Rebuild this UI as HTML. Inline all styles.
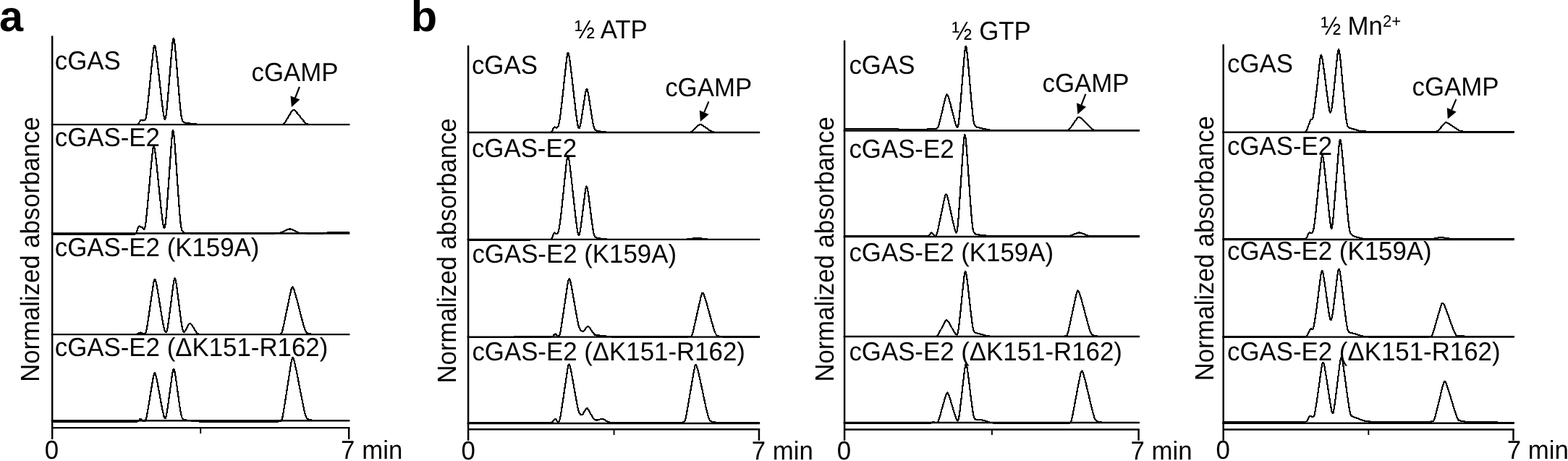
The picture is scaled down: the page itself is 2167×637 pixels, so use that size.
<!DOCTYPE html>
<html><head><meta charset="utf-8"><title>figure</title>
<style>html,body{margin:0;padding:0;background:#fff}svg{display:block}</style></head>
<body>
<svg width="2167" height="637" viewBox="0 0 2167 637">
<rect width="2167" height="637" fill="#fff"/>
<g font-family="'Liberation Sans', sans-serif" font-size="34.85" fill="#000" style="text-rendering:geometricPrecision">
<line x1="72.2" y1="49.4" x2="72.2" y2="607.0" stroke="#000" stroke-width="2.45"/>
<line x1="72.2" y1="591.1" x2="483.4" y2="591.1" stroke="#000" stroke-width="2.45"/>
<line x1="482.17499999999995" y1="591.1" x2="482.17499999999995" y2="607.0" stroke="#000" stroke-width="2.45"/>
<line x1="277.2" y1="591.1" x2="277.2" y2="599.0" stroke="#000" stroke-width="1.9"/>
<line x1="70.7" y1="172.1" x2="483.4" y2="172.1" stroke="#000" stroke-width="2.45"/>
<path d="M72.2,172.1 L188.7,172.06 L189.7,171.93 L190.2,171.76 L190.7,171.47 L191.2,171.02 L191.7,170.39 L192.2,169.59 L193.2,167.72 L193.7,166.89 L194.2,166.27 L194.7,165.95 L195.2,165.89 L196.7,166.39 L197.2,166.46 L198.2,166.36 L199.7,166.16 L200.2,165.98 L200.7,165.49 L201.2,164.45 L201.7,162.68 L202.2,160.11 L202.7,156.83 L203.2,153 L203.7,148.78 L204.2,144.31 L204.7,139.68 L205.2,134.93 L206.2,125.23 L209.2,95.54 L210.2,85.77 L210.7,80.98 L211.2,76.33 L211.7,71.94 L212.2,68.06 L212.7,65.01 L213.2,63.15 L213.7,62.75 L214.2,63.65 L214.7,65.62 L215.2,68.39 L215.7,71.7 L216.2,75.36 L216.7,79.26 L217.2,83.32 L217.7,87.51 L218.2,91.81 L219.2,100.65 L221.7,123.13 L222.7,131.89 L223.2,136.17 L223.7,140.36 L224.2,144.44 L224.7,148.4 L225.2,152.2 L225.7,155.75 L226.2,158.94 L226.7,161.6 L227.2,163.56 L227.7,164.65 L228.2,164.71 L228.7,163.62 L229.2,161.35 L229.7,157.98 L230.2,153.69 L230.7,148.75 L231.2,143.39 L231.7,137.79 L232.2,132.03 L233.2,120.28 L234.7,102.29 L236.2,84.23 L236.7,78.28 L237.2,72.44 L237.7,66.82 L238.2,61.64 L238.7,57.27 L239.2,54.16 L239.7,52.76 L240.2,53.18 L240.7,55.22 L241.2,58.57 L241.7,62.88 L242.2,67.84 L242.7,73.21 L243.2,78.86 L243.7,84.7 L244.2,90.68 L246.2,115.06 L246.7,121.08 L247.2,127.01 L247.7,132.8 L248.2,138.45 L248.7,143.88 L249.2,149 L249.7,153.68 L250.2,157.75 L250.7,161.07 L251.2,163.61 L251.7,165.41 L252.2,166.64 L252.7,167.47 L253.2,168.06 L253.7,168.5 L254.7,169.11 L256.2,169.66 L258.2,170.06 L270.2,171.47 L276.2,171.89 L284.7,172.08 L386.7,172.06 L390.2,171.93 L391.2,171.74 L391.7,171.53 L392.2,171.2 L392.7,170.74 L393.2,170.15 L394.2,168.71 L396.7,164.6 L402.2,155.33 L403.2,153.74 L403.7,153.02 L404.2,152.39 L404.7,151.92 L405.2,151.66 L405.7,151.62 L406.2,151.77 L406.7,152.07 L407.7,152.91 L409.2,154.47 L411.7,157.4 L417.7,164.92 L420.2,167.84 L421.7,169.44 L422.7,170.35 L423.7,170.99 L424.7,171.35 L426.7,171.67 L430.7,171.97 L439.2,172.09 L483.2,172.1" fill="none" stroke="#000" stroke-width="2.2" stroke-linejoin="round" shape-rendering="crispEdges"/>
<text transform="translate(75.80 95.95) scale(1.0 1.035)">cGAS</text>
<line x1="70.7" y1="322.45" x2="483.4" y2="322.45" stroke="#000" stroke-width="2.45"/>
<path d="M72.2,323.75 L184.7,323.71 L186.2,323.53 L186.7,323.35 L187.2,323.03 L187.7,322.52 L188.2,321.75 L188.7,320.68 L189.2,319.3 L190.2,316.08 L190.7,314.59 L191.2,313.45 L191.7,312.77 L192.2,312.55 L192.7,312.7 L193.7,313.35 L194.2,313.57 L195.2,313.68 L195.7,313.72 L196.2,313.88 L196.7,314.22 L197.2,314.75 L198.2,316.12 L198.7,316.7 L199.2,316.94 L199.7,316.57 L200.2,315.35 L200.7,313.13 L201.2,309.94 L201.7,305.93 L202.2,301.34 L202.7,296.38 L203.2,291.21 L204.2,280.55 L205.7,264.21 L208.2,236.82 L209.2,226.06 L209.7,220.79 L210.2,215.7 L210.7,210.95 L211.2,206.81 L211.7,203.67 L212.2,201.93 L212.7,201.8 L213.2,203.05 L213.7,205.42 L214.2,208.62 L214.7,212.37 L215.2,216.47 L215.7,220.82 L216.2,225.33 L216.7,229.99 L217.2,234.76 L218.2,244.54 L220.2,264.45 L221.2,274.24 L221.7,279.03 L222.2,283.74 L222.7,288.35 L223.2,292.84 L223.7,297.2 L224.2,301.36 L224.7,305.23 L225.2,308.68 L225.7,311.56 L226.2,313.7 L226.7,314.98 L227.2,315.26 L227.7,314.4 L228.2,312.27 L228.7,308.84 L229.2,304.23 L229.7,298.68 L230.2,292.48 L230.7,285.88 L231.2,279.06 L231.7,272.1 L232.7,257.94 L235.2,222.01 L235.7,214.87 L236.2,207.83 L236.7,200.96 L237.2,194.44 L237.7,188.62 L238.2,183.97 L238.7,181.06 L239.2,180.32 L239.7,181.69 L240.2,184.87 L240.7,189.46 L241.2,195.04 L241.7,201.26 L242.2,207.91 L242.7,214.84 L243.2,221.98 L243.7,229.26 L245.2,251.4 L245.7,258.73 L246.2,265.96 L246.7,273.06 L247.2,280 L247.7,286.73 L248.2,293.16 L248.7,299.16 L249.2,304.55 L249.7,309.13 L250.2,312.78 L250.7,315.49 L251.2,317.38 L251.7,318.67 L252.2,319.56 L252.7,320.2 L253.2,320.69 L254.2,321.38 L255.2,321.82 L256.7,322.18 L259.2,322.39 L276.2,322.45 L379.7,322.41 L383.7,322.22 L386.2,321.88 L388.2,321.39 L390.2,320.66 L392.7,319.42 L396.2,317.53 L397.7,316.91 L399.2,316.54 L400.7,316.46 L402.2,316.7 L403.7,317.22 L405.7,318.2 L409.2,320.1 L411.2,320.98 L413.2,321.61 L415.7,322.09 L418.7,322.34 L426.2,322.45 L447.2,322.4 L449.2,322.23 L452.7,321.48 L454.7,321.3 L473.7,321.25 L483.2,321.25" fill="none" stroke="#000" stroke-width="2.2" stroke-linejoin="round" shape-rendering="crispEdges"/>
<text transform="translate(75.80 201.95) scale(1.0 1.035)">cGAS-E2</text>
<line x1="70.7" y1="462.1" x2="483.4" y2="462.1" stroke="#000" stroke-width="2.45"/>
<path d="M72.2,462.1 L186.7,462.06 L188.2,461.93 L189.2,461.7 L190.2,461.31 L192.7,459.9 L193.2,459.7 L193.7,459.59 L194.2,459.57 L194.7,459.65 L195.7,460.04 L197.7,461.05 L198.7,461.34 L199.2,461.39 L199.7,461.35 L200.2,461.18 L200.7,460.78 L201.2,460.03 L201.7,458.82 L202.2,457.06 L202.7,454.76 L203.2,452.03 L203.7,448.98 L204.2,445.75 L205.2,439.04 L207.2,425.27 L209.7,407.94 L210.7,401.14 L211.2,397.81 L211.7,394.59 L212.2,391.58 L212.7,388.96 L213.2,386.98 L213.7,385.88 L214.2,385.79 L214.7,386.58 L215.2,388.09 L215.7,390.11 L216.2,392.48 L216.7,395.08 L217.2,397.82 L217.7,400.68 L218.7,406.64 L220.2,415.97 L222.2,428.54 L223.2,434.67 L224.2,440.58 L224.7,443.44 L225.2,446.21 L225.7,448.86 L226.2,451.34 L226.7,453.57 L227.2,455.45 L227.7,456.94 L228.2,458 L228.7,458.66 L229.2,458.94 L229.7,458.79 L230.2,458.14 L230.7,456.87 L231.2,454.94 L231.7,452.38 L232.2,449.32 L232.7,445.91 L233.2,442.29 L234.2,434.72 L235.7,423.05 L238.2,403.42 L238.7,399.57 L239.2,395.81 L239.7,392.26 L240.2,389.07 L240.7,386.53 L241.2,384.95 L241.7,384.54 L242.2,385.29 L242.7,387.02 L243.2,389.53 L243.7,392.57 L244.2,395.97 L244.7,399.59 L245.2,403.38 L246.2,411.24 L248.2,427.32 L249.2,435.14 L249.7,438.92 L250.2,442.59 L250.7,446.09 L251.2,449.35 L251.7,452.27 L252.2,454.72 L252.7,456.63 L253.2,457.94 L253.7,458.69 L254.2,458.94 L254.7,458.8 L255.2,458.37 L255.7,457.73 L256.2,456.94 L257.2,455.14 L259.2,451.13 L260.2,449.13 L260.7,448.22 L261.2,447.44 L261.7,446.88 L262.2,446.6 L262.7,446.64 L263.2,446.9 L263.7,447.36 L264.2,447.94 L265.2,449.31 L267.2,452.43 L270.2,457.17 L271.7,459.31 L272.7,460.46 L273.2,460.9 L273.7,461.24 L274.7,461.64 L276.2,461.89 L279.7,462.07 L380.7,462.06 L385.2,461.86 L387.2,461.59 L387.7,461.43 L388.2,461.14 L388.7,460.65 L389.2,459.85 L389.7,458.69 L390.2,457.15 L390.7,455.3 L391.2,453.21 L392.2,448.68 L394.2,439.18 L399.2,414.98 L400.7,407.87 L401.7,403.31 L402.2,401.19 L402.7,399.29 L403.2,397.78 L403.7,396.81 L404.2,396.51 L404.7,396.82 L405.2,397.6 L405.7,398.72 L406.2,400.06 L406.7,401.55 L407.7,404.78 L408.7,408.24 L410.2,413.74 L412.2,421.46 L415.7,435.19 L417.2,440.87 L418.7,446.33 L420.2,451.51 L420.7,453.14 L421.2,454.67 L421.7,456.06 L422.2,457.26 L422.7,458.23 L423.2,458.97 L423.7,459.51 L424.2,459.9 L425.2,460.43 L427.2,461.11 L429.7,461.62 L433.2,461.94 L439.7,462.09 L483.2,462.1" fill="none" stroke="#000" stroke-width="2.2" stroke-linejoin="round" shape-rendering="crispEdges"/>
<text transform="translate(75.80 353.50) scale(1.0 1.035)">cGAS-E2 (K159A)</text>
<line x1="70.7" y1="581.2" x2="483.4" y2="581.2" stroke="#000" stroke-width="2.45"/>
<path d="M72.2,582.7 L188.7,582.67 L189.7,582.54 L190.2,582.4 L190.7,582.15 L191.2,581.79 L191.7,581.28 L193.2,579.36 L193.7,578.89 L194.2,578.67 L194.7,578.75 L195.2,579.11 L195.7,579.67 L196.7,580.93 L197.2,581.45 L197.7,581.83 L198.2,582.06 L198.7,582.18 L199.2,582.19 L199.7,582.09 L200.2,581.84 L200.7,581.36 L201.2,580.54 L201.7,579.27 L202.2,577.51 L202.7,575.31 L203.2,572.77 L203.7,570 L204.7,564.15 L206.7,552.04 L209.7,533.71 L210.7,527.74 L211.2,524.83 L211.7,522.05 L212.2,519.5 L212.7,517.39 L213.2,515.92 L213.7,515.3 L214.2,515.56 L214.7,516.53 L215.2,518.07 L215.7,519.99 L216.2,522.18 L216.7,524.52 L217.2,526.99 L218.2,532.17 L219.7,540.33 L222.2,554.16 L223.2,559.51 L224.2,564.66 L224.7,567.13 L225.2,569.51 L225.7,571.77 L226.2,573.83 L226.7,575.62 L227.2,577.01 L227.7,577.91 L228.2,578.22 L228.7,577.84 L229.2,576.75 L229.7,574.95 L230.2,572.55 L230.7,569.68 L231.2,566.5 L231.7,563.13 L232.7,556.11 L234.2,545.24 L236.7,526.89 L237.2,523.29 L237.7,519.79 L238.2,516.49 L238.7,513.58 L239.2,511.32 L239.7,510.01 L240.2,509.81 L240.7,510.66 L241.2,512.39 L241.7,514.79 L242.2,517.65 L242.7,520.8 L243.2,524.16 L243.7,527.65 L244.7,534.89 L246.7,549.62 L247.7,556.77 L248.2,560.22 L248.7,563.57 L249.2,566.75 L249.7,569.7 L250.2,572.32 L250.7,574.52 L251.2,576.24 L251.7,577.49 L252.2,578.36 L252.7,578.94 L253.2,579.34 L254.2,579.85 L255.7,580.31 L258.7,580.76 L271.2,582.16 L277.2,582.53 L286.7,582.69 L380.2,582.66 L384.7,582.46 L386.7,582.21 L387.7,581.94 L388.2,581.67 L388.7,581.19 L389.2,580.38 L389.7,579.13 L390.2,577.37 L390.7,575.13 L391.2,572.51 L391.7,569.64 L392.7,563.5 L394.2,553.98 L396.7,537.79 L399.7,518.26 L401.2,508.66 L401.7,505.54 L402.2,502.51 L402.7,499.69 L403.2,497.25 L403.7,495.4 L404.2,494.36 L404.7,494.22 L405.2,494.81 L405.7,495.97 L406.2,497.53 L406.7,499.35 L407.2,501.34 L407.7,503.45 L408.7,507.91 L409.7,512.65 L410.7,517.61 L412.2,525.32 L415.7,543.67 L417.2,551.32 L418.7,558.69 L419.7,563.4 L420.7,567.92 L421.2,570.05 L421.7,572.04 L422.2,573.8 L422.7,575.29 L423.2,576.46 L423.7,577.33 L424.2,577.96 L424.7,578.43 L425.7,579.08 L427.2,579.77 L429.2,580.38 L431.7,580.82 L435.2,581.08 L443.7,581.2 L483.2,581.2" fill="none" stroke="#000" stroke-width="2.2" stroke-linejoin="round" shape-rendering="crispEdges"/>
<text transform="translate(75.80 491.95) scale(1.0 1.035)">cGAS-E2 (ΔK151-R162)</text>
<text transform="translate(347.50 112.20) scale(1.0 1.035)">cGAMP</text>
<line x1="413.9" y1="120.0" x2="408.0" y2="135.1" stroke="#000" stroke-width="2.2"/>
<polygon points="402.9,148.1 401.5,132.5 414.5,137.6"/>
<text transform="translate(54.2,527.7) rotate(-90) scale(1,1.05)" font-size="34.68">Normalized absorbance</text>
<text transform="translate(71.40 634.20) scale(1.0 1.035)" text-anchor="middle">0</text>
<text transform="translate(471.10 634.20) scale(1.0 1.035)">7 min</text>
<line x1="647.1" y1="62.8" x2="647.1" y2="608.7" stroke="#000" stroke-width="2.45"/>
<line x1="647.1" y1="593.3" x2="1050.2" y2="593.3" stroke="#000" stroke-width="2.45"/>
<line x1="1048.9750000000001" y1="593.3" x2="1048.9750000000001" y2="608.7" stroke="#000" stroke-width="2.45"/>
<line x1="848.6" y1="593.3" x2="848.6" y2="601.0" stroke="#000" stroke-width="1.9"/>
<line x1="645.6" y1="182.9" x2="1050.2" y2="182.9" stroke="#000" stroke-width="2.45"/>
<path d="M647.1,182.9 L759.6,182.88 L760.6,182.81 L761.1,182.7 L761.6,182.51 L762.1,182.18 L762.6,181.66 L763.1,180.92 L763.6,179.95 L764.6,177.67 L765.1,176.64 L765.6,175.89 L766.1,175.51 L766.6,175.51 L767.1,175.77 L768.1,176.45 L768.6,176.6 L769.1,176.55 L769.6,176.32 L770.1,175.96 L770.6,175.48 L771.1,174.84 L771.6,173.9 L772.1,172.5 L772.6,170.54 L773.1,167.99 L773.6,164.93 L774.1,161.49 L774.6,157.76 L775.1,153.83 L775.6,149.73 L776.1,145.49 L776.6,141.12 L777.6,132.11 L779.1,118.22 L781.1,99.66 L782.1,90.59 L782.6,86.2 L783.1,82.03 L783.6,78.29 L784.1,75.27 L784.6,73.33 L785.1,72.73 L785.6,73.43 L786.1,75.2 L786.6,77.79 L787.1,80.94 L787.6,84.47 L788.1,88.24 L788.6,92.19 L789.1,96.27 L789.6,100.46 L790.6,109.1 L793.1,131.24 L794.1,139.95 L795.1,148.41 L795.6,152.53 L796.1,156.54 L796.6,160.43 L797.1,164.16 L797.6,167.64 L798.1,170.76 L798.6,173.39 L799.1,175.4 L799.6,176.71 L800.1,177.28 L800.6,177.1 L801.1,176.19 L801.6,174.6 L802.1,172.45 L802.6,169.88 L803.1,167.03 L803.6,164.01 L804.6,157.68 L806.1,147.84 L808.1,134.58 L808.6,131.39 L809.1,128.42 L809.6,125.84 L810.1,123.9 L810.6,122.86 L811.1,122.84 L811.6,123.75 L812.1,125.43 L812.6,127.68 L813.1,130.32 L813.6,133.21 L814.1,136.25 L815.1,142.64 L817.1,155.7 L818.1,162.01 L818.6,165.04 L819.1,167.94 L819.6,170.64 L820.1,173.07 L820.6,175.13 L821.1,176.77 L821.6,177.98 L822.1,178.82 L822.6,179.4 L823.1,179.8 L824.1,180.32 L825.6,180.81 L829.1,181.52 L834.6,182.32 L839.1,182.7 L845.6,182.87 L951.1,182.86 L953.6,182.75 L954.6,182.52 L955.6,182.02 L956.6,181.27 L960.1,178.04 L965.1,173.36 L966.1,172.54 L966.6,172.22 L967.1,172 L967.6,171.91 L968.1,171.94 L969.1,172.26 L970.6,173.06 L973.6,175.04 L980.1,179.64 L983.1,181.53 L984.6,182.21 L986.1,182.53 L990.1,182.79 L1000.1,182.9 L1050.1,182.9" fill="none" stroke="#000" stroke-width="2.2" stroke-linejoin="round" shape-rendering="crispEdges"/>
<text transform="translate(651.90 101.60) scale(1.0 1.035)">cGAS</text>
<line x1="645.6" y1="330.85" x2="1050.2" y2="330.85" stroke="#000" stroke-width="2.45"/>
<path d="M647.1,331.85 L729.1,331.81 L731.6,331.61 L735.1,331 L738.1,330.86 L760.1,330.81 L761.1,330.64 L761.6,330.42 L762.1,330.05 L762.6,329.45 L763.1,328.58 L763.6,327.42 L764.1,326.05 L764.6,324.59 L765.1,323.25 L765.6,322.23 L766.1,321.67 L766.6,321.58 L767.1,321.87 L768.1,322.82 L768.6,323.12 L769.1,323.17 L769.6,322.99 L770.1,322.62 L770.6,322.05 L771.1,321.24 L771.6,320.04 L772.1,318.34 L772.6,316.05 L773.1,313.2 L773.6,309.9 L774.1,306.26 L774.6,302.38 L775.1,298.29 L775.6,294.03 L776.1,289.61 L776.6,285.06 L777.1,280.39 L778.1,270.83 L780.6,246.5 L781.6,236.93 L782.1,232.24 L782.6,227.72 L783.1,223.49 L783.6,219.82 L784.1,217.07 L784.6,215.57 L785.1,215.52 L785.6,216.73 L786.1,218.96 L786.6,221.94 L787.1,225.43 L787.6,229.24 L788.1,233.28 L788.6,237.47 L789.1,241.8 L789.6,246.23 L790.6,255.34 L793.1,278.55 L794.1,287.63 L794.6,292.07 L795.1,296.43 L795.6,300.7 L796.1,304.86 L796.6,308.87 L797.1,312.69 L797.6,316.19 L798.1,319.26 L798.6,321.75 L799.1,323.53 L799.6,324.53 L800.1,324.69 L800.6,323.98 L801.1,322.43 L801.6,320.11 L802.1,317.19 L802.6,313.84 L803.1,310.21 L803.6,306.42 L804.6,298.57 L806.1,286.45 L807.6,274.25 L808.1,270.27 L808.6,266.46 L809.1,262.99 L809.6,260.11 L810.1,258.15 L810.6,257.38 L811.1,257.86 L811.6,259.4 L812.1,261.78 L812.6,264.77 L813.1,268.16 L813.6,271.8 L814.1,275.6 L815.1,283.51 L816.6,295.57 L817.6,303.42 L818.1,307.21 L818.6,310.87 L819.1,314.34 L819.6,317.53 L820.1,320.34 L820.6,322.66 L821.1,324.45 L821.6,325.74 L822.1,326.62 L822.6,327.22 L823.1,327.64 L824.1,328.2 L825.6,328.73 L828.6,329.38 L834.1,330.21 L838.6,330.62 L845.1,330.82 L943.6,330.81 L949.1,330.61 L953.1,330.19 L960.1,329.07 L962.6,328.87 L965.1,328.9 L968.1,329.24 L974.6,330.28 L978.6,330.65 L984.6,330.83 L1050.1,330.85" fill="none" stroke="#000" stroke-width="2.2" stroke-linejoin="round" shape-rendering="crispEdges"/>
<text transform="translate(651.90 217.30) scale(1.0 1.035)">cGAS-E2</text>
<line x1="645.6" y1="465.6" x2="1050.2" y2="465.6" stroke="#000" stroke-width="2.45"/>
<path d="M647.1,466.3 L699.6,466.26 L702.1,466.08 L705.1,465.7 L709.6,465.6 L761.1,465.57 L762.1,465.47 L763.1,465.19 L763.6,464.93 L764.1,464.56 L764.6,464.07 L766.1,462.31 L766.6,461.84 L767.1,461.56 L767.6,461.51 L768.1,461.7 L768.6,462.09 L770.1,463.68 L770.6,464.1 L771.1,464.38 L771.6,464.51 L772.1,464.42 L772.6,464.04 L773.1,463.27 L773.6,462 L774.1,460.18 L774.6,457.85 L775.1,455.12 L775.6,452.11 L776.1,448.95 L777.1,442.39 L779.1,428.95 L782.6,405.17 L783.6,398.5 L784.1,395.26 L784.6,392.17 L785.1,389.37 L785.6,387.09 L786.1,385.58 L786.6,385.02 L787.1,385.39 L787.6,386.51 L788.1,388.21 L788.6,390.3 L789.1,392.65 L789.6,395.15 L790.1,397.76 L791.1,403.22 L792.6,411.76 L795.1,426.16 L796.6,434.53 L797.6,439.93 L798.1,442.54 L798.6,445.07 L799.1,447.47 L799.6,449.65 L800.1,451.53 L800.6,453.06 L801.1,454.24 L801.6,455.12 L802.1,455.77 L803.1,456.75 L804.1,457.49 L804.6,457.75 L805.1,457.89 L805.6,457.88 L806.1,457.7 L806.6,457.36 L807.1,456.9 L808.1,455.74 L810.6,452.4 L811.1,451.78 L811.6,451.29 L812.1,450.97 L812.6,450.89 L813.1,451.09 L813.6,451.48 L814.1,452.03 L815.1,453.38 L818.6,458.5 L820.1,460.49 L821.1,461.66 L822.1,462.59 L822.6,462.93 L823.1,463.18 L824.1,463.43 L827.1,463.54 L830.6,463.7 L835.1,464.25 L841.1,465.08 L845.6,465.42 L853.1,465.59 L947.6,465.56 L952.1,465.37 L954.1,465.1 L954.6,464.93 L955.1,464.63 L955.6,464.13 L956.1,463.32 L956.6,462.17 L957.1,460.68 L957.6,458.9 L958.1,456.93 L959.1,452.68 L961.1,443.84 L966.1,421.33 L967.6,414.74 L968.6,410.53 L969.1,408.58 L969.6,406.88 L970.1,405.56 L970.6,404.78 L971.1,404.63 L971.6,405.01 L972.1,405.81 L972.6,406.9 L973.1,408.18 L974.1,411.07 L975.1,414.21 L976.6,419.24 L978.1,424.54 L982.6,440.93 L984.1,446.2 L985.6,451.27 L987.1,456.06 L987.6,457.56 L988.1,458.96 L988.6,460.23 L989.1,461.3 L989.6,462.16 L990.1,462.8 L990.6,463.27 L991.1,463.61 L992.1,464.09 L994.1,464.71 L996.6,465.16 L1000.1,465.46 L1007.6,465.59 L1050.1,465.6" fill="none" stroke="#000" stroke-width="2.2" stroke-linejoin="round" shape-rendering="crispEdges"/>
<text transform="translate(652.40 362.97) scale(1.0 1.035)">cGAS-E2 (K159A)</text>
<line x1="645.6" y1="585.0" x2="1050.2" y2="585.0" stroke="#000" stroke-width="2.45"/>
<path d="M647.1,584 L760.6,583.97 L761.6,583.88 L762.6,583.59 L763.1,583.31 L763.6,582.9 L764.1,582.36 L765.1,580.93 L765.6,580.18 L766.1,579.53 L766.6,579.08 L767.1,578.91 L767.6,579.04 L768.1,579.44 L768.6,580.04 L769.6,581.43 L770.1,582.03 L770.6,582.49 L771.1,582.78 L771.6,582.86 L772.1,582.68 L772.6,582.17 L773.1,581.21 L773.6,579.72 L774.1,577.69 L774.6,575.18 L775.1,572.31 L775.6,569.21 L776.6,562.7 L778.1,552.65 L782.6,522.05 L783.6,515.42 L784.1,512.22 L784.6,509.23 L785.1,506.61 L785.6,504.61 L786.1,503.47 L786.6,503.32 L787.1,504.02 L787.6,505.42 L788.1,507.31 L788.6,509.54 L789.1,511.98 L789.6,514.54 L790.6,519.93 L792.1,528.39 L794.1,539.82 L795.6,548.15 L796.6,553.5 L797.6,558.66 L798.1,561.14 L798.6,563.51 L799.1,565.71 L799.6,567.66 L800.1,569.29 L800.6,570.55 L801.1,571.47 L801.6,572.13 L802.1,572.59 L802.6,572.92 L803.1,573.16 L803.6,573.27 L804.1,573.22 L804.6,572.99 L805.1,572.57 L805.6,571.99 L806.6,570.51 L809.1,566.33 L809.6,565.55 L810.1,564.86 L810.6,564.36 L811.1,564.11 L811.6,564.17 L812.1,564.54 L812.6,565.13 L813.1,565.87 L814.1,567.62 L817.1,573.19 L818.6,575.79 L819.6,577.37 L820.6,578.73 L821.1,579.27 L821.6,579.7 L822.1,580.02 L823.1,580.37 L824.6,580.5 L826.1,580.37 L827.6,580 L830.6,578.97 L831.6,578.77 L832.6,578.77 L833.6,579 L834.6,579.44 L836.1,580.4 L838.6,582.15 L840.1,582.94 L841.6,583.45 L843.6,583.8 L847.1,583.97 L937.6,583.96 L942.1,583.76 L944.1,583.5 L945.1,583.18 L945.6,582.83 L946.1,582.23 L946.6,581.26 L947.1,579.84 L947.6,577.97 L948.1,575.7 L948.6,573.16 L949.1,570.44 L950.1,564.77 L952.1,553.12 L956.6,526.53 L958.1,517.87 L959.1,512.31 L959.6,509.72 L960.1,507.4 L960.6,505.56 L961.1,504.38 L961.6,504.01 L962.1,504.39 L962.6,505.34 L963.1,506.7 L963.6,508.35 L964.1,510.16 L964.6,512.09 L965.6,516.18 L966.6,520.5 L968.1,527.34 L970.1,536.84 L972.6,548.82 L974.1,555.83 L975.6,562.58 L977.1,569.03 L978.1,573.07 L978.6,574.94 L979.1,576.64 L979.6,578.1 L980.1,579.28 L980.6,580.18 L981.1,580.84 L981.6,581.31 L982.6,581.96 L984.1,582.62 L986.1,583.21 L988.6,583.63 L992.1,583.89 L1000.6,584 L1050.1,584" fill="none" stroke="#000" stroke-width="2.2" stroke-linejoin="round" shape-rendering="crispEdges"/>
<text transform="translate(652.40 497.90) scale(1.0 1.035)">cGAS-E2 (ΔK151-R162)</text>
<text transform="translate(919.20 132.50) scale(1.0 1.035)">cGAMP</text>
<line x1="979.4" y1="140.4" x2="973.3" y2="155.2" stroke="#000" stroke-width="2.2"/>
<polygon points="967.9,168.1 966.8,152.5 979.7,157.9"/>
<text transform="translate(630.0,529.6) rotate(-90) scale(1,1.05)" font-size="34.68">Normalized absorbance</text>
<text transform="translate(794.30 52.90) scale(0.955 1.035)">½</text>
<text transform="translate(829.70 52.90) scale(1.0 1.035)">ATP</text>
<text transform="translate(647.10 635.00) scale(1.0 1.035)" text-anchor="middle">0</text>
<text transform="translate(1038.80 635.00) scale(1.0 1.035)">7 min</text>
<line x1="1167.1" y1="55.7" x2="1167.1" y2="608.7" stroke="#000" stroke-width="2.45"/>
<line x1="1167.1" y1="593.4" x2="1574.8" y2="593.4" stroke="#000" stroke-width="2.45"/>
<line x1="1573.575" y1="593.4" x2="1573.575" y2="608.7" stroke="#000" stroke-width="2.45"/>
<line x1="1370.9" y1="593.4" x2="1370.9" y2="601.0" stroke="#000" stroke-width="1.9"/>
<line x1="1165.6" y1="180.4" x2="1574.8" y2="180.4" stroke="#000" stroke-width="2.45"/>
<path d="M1167.1,178 L1236.6,178.04 L1239.1,178.22 L1242.1,178.6 L1246.6,178.7 L1280.1,178.67 L1282.6,178.48 L1286.1,177.92 L1290.6,177.73 L1294.1,177.7 L1294.6,177.6 L1295.1,177.34 L1295.6,176.84 L1296.1,176.04 L1296.6,174.91 L1297.1,173.49 L1297.6,171.85 L1298.1,170.05 L1299.1,166.19 L1300.6,160.08 L1305.1,141.27 L1306.1,137.23 L1306.6,135.31 L1307.1,133.54 L1307.6,132.03 L1308.1,130.95 L1308.6,130.44 L1309.1,130.55 L1309.6,131.18 L1310.1,132.23 L1310.6,133.59 L1311.1,135.14 L1311.6,136.83 L1312.6,140.45 L1313.6,144.29 L1316.1,154.34 L1317.6,160.33 L1318.6,164.18 L1319.6,167.85 L1320.1,169.6 L1320.6,171.26 L1321.1,172.81 L1321.6,174.17 L1322.1,175.26 L1322.6,175.97 L1323.1,176.14 L1323.6,175.58 L1324.1,174.11 L1324.6,171.59 L1325.1,168.01 L1325.6,163.52 L1326.1,158.33 L1326.6,152.69 L1327.1,146.79 L1327.6,140.75 L1328.6,128.43 L1331.1,97.17 L1331.6,90.98 L1332.1,84.9 L1332.6,79.04 L1333.1,73.63 L1333.6,69.03 L1334.1,65.71 L1334.6,64.09 L1335.1,64.34 L1335.6,66.21 L1336.1,69.37 L1336.6,73.49 L1337.1,78.25 L1337.6,83.4 L1338.1,88.83 L1338.6,94.45 L1339.1,100.19 L1341.1,123.63 L1341.6,129.41 L1342.1,135.1 L1342.6,140.68 L1343.1,146.1 L1343.6,151.32 L1344.1,156.25 L1344.6,160.74 L1345.1,164.65 L1345.6,167.84 L1346.1,170.26 L1346.6,171.97 L1347.1,173.13 L1347.6,173.92 L1348.1,174.46 L1348.6,174.87 L1349.6,175.44 L1351.1,175.99 L1359.6,177.88 L1365.1,179.12 L1369.1,179.75 L1373.6,180.15 L1380.1,180.36 L1469.6,180.38 L1474.6,180.25 L1475.6,180.1 L1476.1,179.94 L1476.6,179.69 L1477.1,179.32 L1477.6,178.85 L1478.6,177.66 L1481.6,173.51 L1487.6,164.98 L1489.1,163.02 L1489.6,162.48 L1490.1,162.05 L1490.6,161.78 L1491.1,161.71 L1491.6,161.8 L1492.1,162.01 L1493.1,162.67 L1495.1,164.35 L1497.6,166.72 L1505.1,174.38 L1508.1,177.2 L1509.6,178.45 L1510.6,179.11 L1511.6,179.54 L1513.1,179.85 L1517.1,180.19 L1524.1,180.37 L1574.6,180.4" fill="none" stroke="#000" stroke-width="2.2" stroke-linejoin="round" shape-rendering="crispEdges"/>
<text transform="translate(1173.40 101.60) scale(1.0 1.035)">cGAS</text>
<line x1="1165.6" y1="327.0" x2="1574.8" y2="327.0" stroke="#000" stroke-width="2.45"/>
<path d="M1167.1,326.5 L1281.1,326.46 L1282.1,326.35 L1282.6,326.22 L1283.1,326 L1283.6,325.67 L1284.1,325.21 L1284.6,324.61 L1286.1,322.43 L1286.6,321.85 L1287.1,321.51 L1287.6,321.47 L1288.1,321.73 L1288.6,322.24 L1290.1,324.32 L1290.6,324.9 L1291.1,325.34 L1291.6,325.64 L1292.1,325.78 L1292.6,325.79 L1293.1,325.62 L1293.6,325.22 L1294.1,324.51 L1294.6,323.43 L1295.1,321.96 L1295.6,320.15 L1296.1,318.09 L1296.6,315.86 L1297.6,311.18 L1300.1,299.1 L1303.1,284.47 L1304.6,277.35 L1305.1,275.07 L1305.6,272.93 L1306.1,271.04 L1306.6,269.57 L1307.1,268.69 L1307.6,268.54 L1308.1,269.04 L1308.6,270.08 L1309.1,271.53 L1309.6,273.26 L1310.1,275.16 L1310.6,277.19 L1311.6,281.47 L1312.6,285.99 L1316.1,302.32 L1317.1,306.81 L1318.1,311.12 L1318.6,313.18 L1319.1,315.15 L1319.6,317 L1320.1,318.67 L1320.6,320.06 L1321.1,321.04 L1321.6,321.41 L1322.1,320.96 L1322.6,319.45 L1323.1,316.67 L1323.6,312.59 L1324.1,307.34 L1324.6,301.2 L1325.1,294.46 L1325.6,287.36 L1326.1,280.07 L1327.1,265.19 L1329.6,227.41 L1330.1,219.93 L1330.6,212.56 L1331.1,205.43 L1331.6,198.77 L1332.1,193 L1332.6,188.67 L1333.1,186.32 L1333.6,186.27 L1334.1,188.25 L1334.6,191.9 L1335.1,196.8 L1335.6,202.53 L1336.1,208.8 L1336.6,215.43 L1337.1,222.3 L1337.6,229.35 L1338.6,243.73 L1339.6,258.16 L1340.1,265.3 L1340.6,272.32 L1341.1,279.21 L1341.6,285.92 L1342.1,292.39 L1342.6,298.53 L1343.1,304.17 L1343.6,309.14 L1344.1,313.25 L1344.6,316.42 L1345.1,318.71 L1345.6,320.27 L1346.1,321.32 L1346.6,322.05 L1347.1,322.58 L1347.6,322.98 L1348.6,323.57 L1350.1,324.08 L1352.1,324.42 L1366.6,326 L1372.6,326.34 L1382.6,326.49 L1471.1,326.46 L1475.1,326.29 L1477.6,325.99 L1480.1,325.43 L1482.6,324.54 L1487.6,322.32 L1489.1,321.83 L1490.6,321.55 L1492.1,321.52 L1493.6,321.75 L1495.1,322.21 L1498.1,323.51 L1501.1,324.82 L1503.6,325.62 L1506.1,326.1 L1509.1,326.37 L1515.6,326.49 L1574.6,326.5" fill="none" stroke="#000" stroke-width="2.2" stroke-linejoin="round" shape-rendering="crispEdges"/>
<text transform="translate(1173.40 217.50) scale(1.0 1.035)">cGAS-E2</text>
<line x1="1165.6" y1="464.9" x2="1574.8" y2="464.9" stroke="#000" stroke-width="2.45"/>
<path d="M1167.1,464.9 L1289.6,464.86 L1293.1,464.73 L1294.1,464.53 L1294.6,464.32 L1295.1,463.98 L1295.6,463.5 L1296.1,462.87 L1296.6,462.13 L1297.6,460.42 L1301.1,453.89 L1305.1,446.38 L1306.1,444.61 L1306.6,443.81 L1307.1,443.13 L1307.6,442.65 L1308.1,442.42 L1308.6,442.47 L1309.1,442.75 L1309.6,443.22 L1310.1,443.83 L1311.1,445.29 L1312.6,447.78 L1317.6,456.73 L1319.1,459.21 L1320.1,460.71 L1320.6,461.38 L1321.1,461.95 L1321.6,462.37 L1322.1,462.55 L1322.6,462.37 L1323.1,461.66 L1323.6,460.26 L1324.1,458.07 L1324.6,455.08 L1325.1,451.42 L1325.6,447.27 L1326.1,442.81 L1326.6,438.18 L1327.6,428.68 L1330.6,399.62 L1331.1,394.83 L1331.6,390.14 L1332.1,385.65 L1332.6,381.55 L1333.1,378.14 L1333.6,375.8 L1334.1,374.84 L1334.6,375.32 L1335.1,376.99 L1335.6,379.63 L1336.1,382.94 L1336.6,386.7 L1337.1,390.74 L1337.6,394.97 L1338.1,399.33 L1339.1,408.28 L1340.6,421.8 L1341.6,430.57 L1342.1,434.82 L1342.6,438.94 L1343.1,442.89 L1343.6,446.59 L1344.1,449.94 L1344.6,452.8 L1345.1,455.1 L1345.6,456.79 L1346.1,457.96 L1346.6,458.74 L1347.1,459.24 L1347.6,459.59 L1348.6,460.05 L1350.6,460.59 L1354.6,461.48 L1361.6,463.5 L1364.6,464.14 L1368.1,464.59 L1372.6,464.83 L1388.1,464.9 L1466.1,464.86 L1470.6,464.68 L1472.6,464.43 L1473.1,464.29 L1473.6,464.04 L1474.1,463.61 L1474.6,462.9 L1475.1,461.85 L1475.6,460.43 L1476.1,458.69 L1476.6,456.71 L1477.1,454.58 L1478.6,447.8 L1481.1,436.17 L1484.6,419.75 L1486.1,412.86 L1487.1,408.42 L1487.6,406.34 L1488.1,404.45 L1488.6,402.9 L1489.1,401.84 L1489.6,401.42 L1490.1,401.62 L1490.6,402.28 L1491.1,403.31 L1491.6,404.58 L1492.1,406 L1493.1,409.09 L1494.1,412.42 L1495.6,417.72 L1497.6,425.18 L1501.1,438.47 L1502.6,443.99 L1504.1,449.29 L1505.6,454.32 L1506.1,455.91 L1506.6,457.42 L1507.1,458.8 L1507.6,460 L1508.1,460.99 L1508.6,461.74 L1509.1,462.3 L1509.6,462.7 L1510.6,463.24 L1512.1,463.78 L1514.1,464.25 L1517.1,464.64 L1521.6,464.85 L1555.6,464.9 L1574.6,464.9" fill="none" stroke="#000" stroke-width="2.2" stroke-linejoin="round" shape-rendering="crispEdges"/>
<text transform="translate(1173.40 360.50) scale(1.0 1.035)">cGAS-E2 (K159A)</text>
<line x1="1165.6" y1="583.9" x2="1574.8" y2="583.9" stroke="#000" stroke-width="2.45"/>
<path d="M1167.1,585.1 L1282.6,585.07 L1284.6,584.9 L1286.1,584.5 L1288.6,583.36 L1289.6,583.08 L1290.6,583.08 L1291.6,583.36 L1293.6,584.13 L1294.1,584.23 L1294.6,584.24 L1295.1,584.09 L1295.6,583.74 L1296.1,583.11 L1296.6,582.18 L1297.1,580.96 L1297.6,579.53 L1298.1,577.94 L1299.6,572.8 L1303.6,558.51 L1305.6,551.42 L1306.6,547.99 L1307.1,546.37 L1307.6,544.89 L1308.1,543.66 L1308.6,542.83 L1309.1,542.5 L1309.6,542.69 L1310.1,543.31 L1310.6,544.27 L1311.1,545.47 L1311.6,546.82 L1312.6,549.8 L1313.6,553.01 L1315.1,558.08 L1317.6,566.67 L1319.1,571.62 L1320.1,574.75 L1321.1,577.65 L1321.6,578.95 L1322.1,580.08 L1322.6,580.96 L1323.1,581.47 L1323.6,581.47 L1324.1,580.84 L1324.6,579.46 L1325.1,577.29 L1325.6,574.4 L1326.1,570.94 L1326.6,567.09 L1327.1,563.01 L1328.1,554.5 L1329.6,541.38 L1331.6,523.77 L1332.1,519.44 L1332.6,515.23 L1333.1,511.26 L1333.6,507.75 L1334.1,505 L1334.6,503.35 L1335.1,503.01 L1335.6,503.91 L1336.1,505.81 L1336.6,508.49 L1337.1,511.69 L1337.6,515.23 L1338.1,518.99 L1338.6,522.9 L1339.6,530.98 L1341.6,547.37 L1342.1,551.37 L1342.6,555.28 L1343.1,559.08 L1343.6,562.76 L1344.1,566.25 L1344.6,569.47 L1345.1,572.32 L1345.6,574.68 L1346.1,576.5 L1346.6,577.79 L1347.1,578.64 L1347.6,579.17 L1348.1,579.49 L1349.1,579.83 L1350.6,579.99 L1354.6,580.07 L1357.1,580.38 L1359.6,580.98 L1367.1,583.37 L1370.1,584.09 L1373.6,584.63 L1377.6,584.94 L1385.1,585.09 L1471.6,585.06 L1475.6,584.88 L1477.6,584.64 L1478.6,584.34 L1479.1,584.01 L1479.6,583.45 L1480.1,582.56 L1480.6,581.25 L1481.1,579.51 L1481.6,577.41 L1482.1,575.04 L1482.6,572.5 L1488.6,540.5 L1490.6,530.01 L1492.1,522.36 L1492.6,519.92 L1493.1,517.6 L1493.6,515.54 L1494.1,513.89 L1494.6,512.84 L1495.1,512.51 L1495.6,512.85 L1496.1,513.69 L1496.6,514.91 L1497.1,516.38 L1497.6,518 L1498.6,521.52 L1499.6,525.28 L1500.6,529.23 L1502.1,535.42 L1506.6,554.61 L1508.1,560.79 L1509.6,566.74 L1510.6,570.54 L1511.6,574.14 L1512.1,575.81 L1512.6,577.33 L1513.1,578.64 L1513.6,579.69 L1514.1,580.49 L1514.6,581.08 L1515.1,581.5 L1516.1,582.08 L1517.6,582.67 L1519.6,583.19 L1522.1,583.57 L1526.1,583.82 L1538.6,583.9 L1574.6,583.9" fill="none" stroke="#000" stroke-width="2.2" stroke-linejoin="round" shape-rendering="crispEdges"/>
<text transform="translate(1173.40 497.90) scale(1.0 1.035)">cGAS-E2 (ΔK151-R162)</text>
<text transform="translate(1440.50 126.80) scale(1.0 1.035)">cGAMP</text>
<line x1="1500.4" y1="129.9" x2="1494.5" y2="144.9" stroke="#000" stroke-width="2.2"/>
<polygon points="1489.4,157.9 1488.0,142.3 1501.0,147.4"/>
<text transform="translate(1151.7,527.5) rotate(-90) scale(1,1.05)" font-size="34.68">Normalized absorbance</text>
<text transform="translate(1315.50 55.30) scale(0.955 1.035)">½</text>
<text transform="translate(1353.20 55.30) scale(1.0 1.035)">GTP</text>
<text transform="translate(1166.50 635.00) scale(1.0 1.035)" text-anchor="middle">0</text>
<text transform="translate(1562.50 635.00) scale(1.0 1.035)">7 min</text>
<line x1="1690.7" y1="61.3" x2="1690.7" y2="608.7" stroke="#000" stroke-width="2.45"/>
<line x1="1690.7" y1="593.4" x2="2092.7" y2="593.4" stroke="#000" stroke-width="2.45"/>
<line x1="2091.475" y1="593.4" x2="2091.475" y2="608.7" stroke="#000" stroke-width="2.45"/>
<line x1="1891.3" y1="593.4" x2="1891.3" y2="601.0" stroke="#000" stroke-width="1.9"/>
<line x1="1689.2" y1="182.8" x2="2092.7" y2="182.8" stroke="#000" stroke-width="2.45"/>
<path d="M1690.7,182.8 L1802.7,182.77 L1803.7,182.59 L1804.2,182.34 L1804.7,181.9 L1805.2,181.23 L1805.7,180.33 L1806.2,179.24 L1806.7,178 L1808.2,173.92 L1809.7,169.74 L1810.2,168.4 L1810.7,167.17 L1811.2,166.15 L1811.7,165.41 L1812.2,164.99 L1813.2,164.61 L1813.7,164.15 L1814.2,163.12 L1814.7,161.35 L1815.2,158.85 L1815.7,155.74 L1816.2,152.21 L1816.7,148.44 L1817.7,140.55 L1818.7,132.45 L1819.7,124.15 L1820.2,119.87 L1820.7,115.44 L1821.2,110.86 L1821.7,106.12 L1823.2,91.54 L1823.7,86.91 L1824.2,82.7 L1824.7,79.23 L1825.2,76.86 L1825.7,75.85 L1826.2,76.24 L1826.7,77.67 L1827.2,79.89 L1827.7,82.65 L1828.2,85.76 L1828.7,89.09 L1829.2,92.57 L1829.7,96.18 L1830.2,99.88 L1831.2,107.52 L1834.2,131.13 L1835.2,138.8 L1835.7,142.5 L1836.2,146.02 L1836.7,149.24 L1837.2,151.98 L1837.7,154.03 L1838.2,155.2 L1838.7,155.43 L1839.2,154.75 L1839.7,153.24 L1840.2,150.99 L1840.7,148.07 L1841.2,144.55 L1841.7,140.54 L1842.2,136.16 L1842.7,131.52 L1843.2,126.73 L1844.2,116.87 L1846.7,91.68 L1847.2,86.7 L1847.7,81.84 L1848.2,77.26 L1848.7,73.23 L1849.2,70.13 L1849.7,68.39 L1850.2,68.24 L1850.7,69.58 L1851.2,72.19 L1851.7,75.78 L1852.2,80.04 L1852.7,84.73 L1853.2,89.7 L1853.7,94.88 L1854.2,100.2 L1855.2,111.11 L1856.7,127.59 L1857.2,133 L1857.7,138.32 L1858.2,143.53 L1858.7,148.6 L1859.2,153.49 L1859.7,158.14 L1860.2,162.41 L1860.7,166.16 L1861.2,169.26 L1861.7,171.64 L1862.2,173.35 L1862.7,174.5 L1863.2,175.27 L1863.7,175.8 L1864.2,176.2 L1865.2,176.75 L1866.7,177.31 L1872.2,178.84 L1878.2,180.77 L1880.2,181.2 L1882.2,181.32 L1885.7,181.48 L1891.2,181.8 L1902.7,181.9 L1982.2,181.86 L1984.7,181.76 L1985.7,181.53 L1986.2,181.32 L1986.7,181.01 L1987.7,180.16 L1989.7,178.03 L1995.7,171.32 L1996.7,170.31 L1997.2,169.89 L1997.7,169.56 L1998.2,169.36 L1998.7,169.3 L1999.2,169.37 L2000.2,169.73 L2002.2,170.81 L2005.7,173.07 L2012.7,177.9 L2016.2,180.09 L2017.7,180.87 L2018.7,181.22 L2020.2,181.49 L2024.7,181.76 L2034.2,181.89 L2092.7,181.9" fill="none" stroke="#000" stroke-width="2.2" stroke-linejoin="round" shape-rendering="crispEdges"/>
<text transform="translate(1696.00 100.10) scale(1.0 1.035)">cGAS</text>
<line x1="1689.2" y1="330.9" x2="2092.7" y2="330.9" stroke="#000" stroke-width="2.45"/>
<path d="M1690.7,330.6 L1802.2,330.57 L1803.2,330.49 L1803.7,330.38 L1804.2,330.19 L1804.7,329.88 L1805.2,329.4 L1805.7,328.72 L1806.2,327.84 L1806.7,326.76 L1807.7,324.37 L1808.2,323.29 L1808.7,322.43 L1809.2,321.86 L1809.7,321.59 L1810.2,321.55 L1811.7,321.86 L1812.2,321.87 L1812.7,321.81 L1813.2,321.64 L1813.7,321.29 L1814.2,320.61 L1814.7,319.43 L1815.2,317.59 L1815.7,315.07 L1816.2,311.94 L1816.7,308.33 L1817.2,304.38 L1817.7,300.16 L1818.2,295.75 L1818.7,291.17 L1819.2,286.46 L1819.7,281.63 L1820.7,271.74 L1823.2,246.62 L1824.2,236.72 L1824.7,231.89 L1825.2,227.21 L1825.7,222.85 L1826.2,219.09 L1826.7,216.27 L1827.2,214.79 L1827.7,214.82 L1828.2,216.19 L1828.7,218.64 L1829.2,221.91 L1829.7,225.73 L1830.2,229.89 L1830.7,234.3 L1831.2,238.88 L1831.7,243.59 L1832.2,248.42 L1833.2,258.28 L1834.7,273.22 L1835.7,283 L1836.2,287.78 L1836.7,292.47 L1837.2,297.03 L1837.7,301.44 L1838.2,305.64 L1838.7,309.46 L1839.2,312.66 L1839.7,314.88 L1840.2,315.73 L1840.7,314.96 L1841.2,312.57 L1841.7,308.8 L1842.2,304.03 L1842.7,298.64 L1843.2,292.89 L1843.7,286.93 L1844.2,280.84 L1845.2,268.39 L1846.2,255.7 L1848.2,230.06 L1848.7,223.71 L1849.2,217.43 L1849.7,211.32 L1850.2,205.54 L1850.7,200.41 L1851.2,196.36 L1851.7,193.88 L1852.2,193.28 L1852.7,194.4 L1853.2,196.91 L1853.7,200.48 L1854.2,204.76 L1854.7,209.5 L1855.2,214.53 L1855.7,219.79 L1856.2,225.21 L1856.7,230.76 L1857.7,242.14 L1859.7,265.2 L1860.7,276.49 L1861.2,282.01 L1861.7,287.43 L1862.2,292.73 L1862.7,297.87 L1863.2,302.81 L1863.7,307.44 L1864.2,311.61 L1864.7,315.17 L1865.2,318.02 L1865.7,320.14 L1866.2,321.64 L1866.7,322.68 L1867.2,323.42 L1867.7,323.99 L1868.7,324.85 L1870.2,325.77 L1872.2,326.63 L1876.7,328.06 L1881.2,329.23 L1884.7,329.88 L1888.7,330.32 L1894.2,330.54 L1924.2,330.6 L1971.7,330.55 L1976.7,330.33 L1980.2,329.92 L1984.7,329.04 L1988.2,328.36 L1990.7,328.12 L1993.2,328.17 L1996.2,328.6 L2000.7,329.46 L2002.7,329.6 L2007.2,329.72 L2013.7,329.88 L2092.7,329.9" fill="none" stroke="#000" stroke-width="2.2" stroke-linejoin="round" shape-rendering="crispEdges"/>
<text transform="translate(1696.00 214.00) scale(1.0 1.035)">cGAS-E2</text>
<line x1="1689.2" y1="465.6" x2="2092.7" y2="465.6" stroke="#000" stroke-width="2.45"/>
<path d="M1690.7,465.6 L1803.2,465.57 L1804.2,465.43 L1804.7,465.24 L1805.2,464.9 L1805.7,464.38 L1806.2,463.69 L1806.7,462.84 L1807.7,460.87 L1809.7,456.67 L1810.2,455.74 L1810.7,454.97 L1811.2,454.43 L1811.7,454.18 L1812.2,454.21 L1813.2,454.7 L1813.7,454.82 L1814.2,454.57 L1814.7,453.77 L1815.2,452.35 L1815.7,450.32 L1816.2,447.81 L1816.7,444.96 L1817.2,441.92 L1817.7,438.75 L1818.2,435.48 L1818.7,432.11 L1819.2,428.6 L1819.7,424.95 L1820.2,421.15 L1820.7,417.23 L1823.2,397.04 L1824.2,389.12 L1824.7,385.3 L1825.2,381.7 L1825.7,378.51 L1826.2,376 L1826.7,374.47 L1827.2,374.13 L1827.7,374.86 L1828.2,376.46 L1828.7,378.71 L1829.2,381.4 L1829.7,384.37 L1830.2,387.53 L1830.7,390.82 L1831.2,394.22 L1832.2,401.26 L1835.2,423.02 L1835.7,426.55 L1836.2,429.99 L1836.7,433.25 L1837.2,436.24 L1837.7,438.78 L1838.2,440.71 L1838.7,441.87 L1839.2,442.23 L1839.7,441.8 L1840.2,440.65 L1840.7,438.84 L1841.2,436.43 L1841.7,433.51 L1842.2,430.16 L1842.7,426.52 L1843.2,422.68 L1844.2,414.67 L1845.7,402.29 L1847.2,389.82 L1847.7,385.74 L1848.2,381.81 L1848.7,378.16 L1849.2,375.07 L1849.7,372.86 L1850.2,371.84 L1850.7,372.1 L1851.2,373.47 L1851.7,375.75 L1852.2,378.68 L1852.7,382.04 L1853.2,385.69 L1853.7,389.52 L1854.2,393.49 L1855.2,401.71 L1857.2,418.53 L1858.2,426.78 L1858.7,430.81 L1859.2,434.74 L1859.7,438.58 L1860.2,442.28 L1860.7,445.79 L1861.2,449.02 L1861.7,451.86 L1862.2,454.19 L1862.7,455.98 L1863.2,457.26 L1863.7,458.11 L1864.2,458.67 L1864.7,459.06 L1865.7,459.55 L1867.2,460 L1872.2,461.07 L1875.7,462.13 L1880.7,463.75 L1884.2,464.61 L1887.7,465.14 L1892.2,465.47 L1900.7,465.59 L1971.2,465.56 L1975.7,465.36 L1977.2,465.12 L1977.7,464.91 L1978.2,464.56 L1978.7,463.99 L1979.2,463.16 L1979.7,462.06 L1980.2,460.73 L1980.7,459.23 L1981.7,455.98 L1984.2,447.46 L1989.2,430.13 L1990.7,425.09 L1991.2,423.48 L1991.7,421.96 L1992.2,420.6 L1992.7,419.51 L1993.2,418.82 L1993.7,418.61 L1994.2,418.83 L1994.7,419.39 L1995.2,420.19 L1995.7,421.15 L1996.7,423.35 L1998.2,427.01 L1999.7,430.95 L2002.2,437.89 L2005.2,446.32 L2007.2,451.71 L2008.7,455.56 L2010.2,459.17 L2010.7,460.27 L2011.2,461.26 L2011.7,462.11 L2012.2,462.79 L2012.7,463.3 L2013.2,463.66 L2013.7,463.91 L2014.7,464.18 L2016.7,464.31 L2025.2,464.65 L2092.7,464.7" fill="none" stroke="#000" stroke-width="2.2" stroke-linejoin="round" shape-rendering="crispEdges"/>
<text transform="translate(1696.00 359.20) scale(1.0 1.035)">cGAS-E2 (K159A)</text>
<line x1="1689.2" y1="584.8" x2="2092.7" y2="584.8" stroke="#000" stroke-width="2.45"/>
<path d="M1690.7,582.8 L1803.2,582.78 L1804.7,582.61 L1805.2,582.44 L1805.7,582.17 L1806.2,581.76 L1806.7,581.17 L1807.2,580.4 L1807.7,579.46 L1808.7,577.35 L1809.2,576.39 L1809.7,575.63 L1810.2,575.13 L1810.7,574.91 L1811.2,574.92 L1811.7,575.1 L1813.7,576.13 L1814.2,576.28 L1814.7,576.27 L1815.2,576 L1815.7,575.32 L1816.2,574.12 L1816.7,572.37 L1817.2,570.15 L1817.7,567.54 L1818.2,564.67 L1818.7,561.6 L1819.2,558.39 L1819.7,555.08 L1820.7,548.21 L1822.2,537.59 L1824.2,523.33 L1825.2,516.33 L1825.7,512.9 L1826.2,509.59 L1826.7,506.49 L1827.2,503.81 L1827.7,501.78 L1828.2,500.67 L1828.7,500.61 L1829.2,501.47 L1829.7,503.07 L1830.2,505.21 L1830.7,507.71 L1831.2,510.46 L1831.7,513.35 L1832.2,516.37 L1833.2,522.66 L1834.7,532.51 L1836.7,545.76 L1837.7,552.2 L1838.7,558.38 L1839.2,561.34 L1839.7,564.16 L1840.2,566.76 L1840.7,568.96 L1841.2,570.55 L1841.7,571.29 L1842.2,571 L1842.7,569.67 L1843.2,567.44 L1843.7,564.54 L1844.2,561.21 L1844.7,557.63 L1845.2,553.9 L1846.2,546.2 L1847.2,538.28 L1850.7,509.98 L1851.2,506.06 L1851.7,502.33 L1852.2,498.96 L1852.7,496.23 L1853.2,494.44 L1853.7,493.83 L1854.2,494.38 L1854.7,495.87 L1855.2,498.1 L1855.7,500.84 L1856.2,503.91 L1856.7,507.19 L1857.2,510.63 L1857.7,514.17 L1858.7,521.49 L1861.2,540.21 L1862.2,547.49 L1863.2,554.51 L1863.7,557.88 L1864.2,561.13 L1864.7,564.18 L1865.2,566.95 L1865.7,569.34 L1866.2,571.25 L1866.7,572.68 L1867.2,573.69 L1867.7,574.37 L1868.2,574.84 L1869.2,575.45 L1871.2,576.27 L1876.2,578.02 L1882.2,580.41 L1885.2,581.36 L1888.2,582.02 L1891.7,582.47 L1896.7,582.73 L1913.7,582.8 L1973.7,582.76 L1978.2,582.55 L1979.7,582.34 L1980.2,582.19 L1980.7,581.91 L1981.2,581.45 L1981.7,580.71 L1982.2,579.65 L1982.7,578.28 L1983.2,576.65 L1983.7,574.84 L1984.7,570.94 L1987.2,560.77 L1991.7,542.16 L1993.2,536.11 L1994.2,532.24 L1994.7,530.46 L1995.2,528.89 L1995.7,527.68 L1996.2,526.97 L1996.7,526.83 L1997.2,527.18 L1997.7,527.91 L1998.2,528.91 L1998.7,530.09 L1999.7,532.74 L2000.7,535.62 L2002.2,540.24 L2003.7,545.11 L2008.2,560.15 L2009.7,564.99 L2011.2,569.64 L2012.7,574.04 L2013.2,575.42 L2013.7,576.71 L2014.2,577.87 L2014.7,578.85 L2015.2,579.64 L2015.7,580.23 L2016.2,580.66 L2017.2,581.22 L2018.7,581.73 L2021.2,582.26 L2024.2,582.59 L2029.7,582.77 L2065.2,582.85 L2067.2,583.02 L2070.7,583.77 L2072.7,583.95 L2091.7,584 L2092.7,584" fill="none" stroke="#000" stroke-width="2.2" stroke-linejoin="round" shape-rendering="crispEdges"/>
<text transform="translate(1696.00 497.60) scale(1.0 1.035)">cGAS-E2 (ΔK151-R162)</text>
<text transform="translate(1951.50 131.80) scale(1.0 1.035)">cGAMP</text>
<line x1="2012.4" y1="137.1" x2="2006.2" y2="151.7" stroke="#000" stroke-width="2.2"/>
<polygon points="2000.8,164.6 1999.8,149.0 2012.7,154.4"/>
<text transform="translate(1677.3,526.3) rotate(-90) scale(1,1.05)" font-size="34.68">Normalized absorbance</text>
<text transform="translate(1825.50 48.10) scale(0.955 1.035)">½</text>
<text transform="translate(1862.60 48.10) scale(1.0 1.035)">Mn<tspan font-size="22.1" dy="-10.3">2+</tspan></text>
<text transform="translate(1690.30 633.80) scale(1.0 1.035)" text-anchor="middle">0</text>
<text transform="translate(2082.70 633.80) scale(1.0 1.035)">7 min</text>
</g>
<g font-family="'Liberation Sans', sans-serif" font-weight="bold" font-size="59.5" fill="#000" style="text-rendering:geometricPrecision">
<text x="-0.9" y="43">a</text>
<text x="567.8" y="43">b</text>
</g>
</svg>
</body></html>
